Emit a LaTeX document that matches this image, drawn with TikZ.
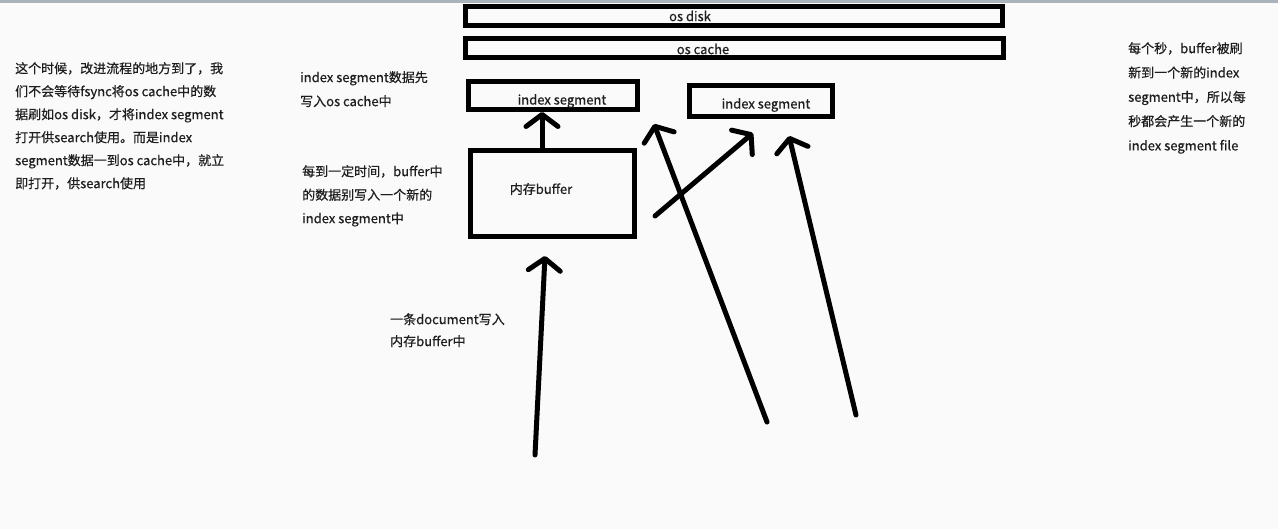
\documentclass[tikz,border=0pt]{standalone}
\usepackage{fontspec}
\setmainfont{Noto Sans CJK SC}[FakeBold=0.5]
\usetikzlibrary{arrows.meta}
\definecolor{bgc}{RGB}{250,250,250}
\definecolor{barc}{RGB}{170,178,188}
\definecolor{txt}{RGB}{30,30,30}
\begin{document}
\begin{tikzpicture}[x=1pt,y=-1pt,
  box/.style={draw=black,line width=5pt,rectangle,inner sep=0pt},
  lbl/.style={inner sep=0pt,text=txt,font=\fontsize{13}{16}\selectfont},
  note/.style={inner sep=0pt,text=txt,align=left,anchor=north west},
  hand/.style={line width=5pt,line cap=round,-{Straight Barb[length=12pt,width=32pt,round]}}]
\fill[bgc] (0,0) rectangle (1278,529);
\fill[barc] (0,0) rectangle (1278,3);
\useasboundingbox (0,0) rectangle (1278,529);
% boxes
\node[box,minimum width=537pt,minimum height=19pt] (disk) at (734,16) {};
\node[lbl] (disklbl) at (690,16) {os disk};
\node[box,minimum width=538pt,minimum height=19pt] (cache) at (734.5,48) {};
\node[lbl] (cachelbl) at (703,49) {os cache};
\node[box,minimum width=169pt,minimum height=28pt] (seg1) at (553,95.5) {};
\node[lbl] (seg1lbl) at (562,101) {index segment};
\node[box,minimum width=143pt,minimum height=31pt] (seg2) at (761,101) {};
\node[lbl] (seg2lbl) at (766,105) {index segment};
\node[box,minimum width=164pt,minimum height=86pt] (buf) at (552.5,193.5) {};
\node[lbl] (buflbl) at (541,189) {内存buffer};
% notes
\node[note,font=\fontsize{13}{23}\selectfont] (left) at (15,62) {这个时候，改进流程的地方到了，我\\们不会等待fsync将os cache中的数\\据刷如os disk，才将index segment\\打开供search使用。而是index\\segment数据一到os cache中，就立\\即打开，供search使用};
\node[note,font=\fontsize{13}{24}\selectfont] (mid1) at (300,71) {index segment数据先\\写入os cache中};
\node[note,font=\fontsize{13}{23.5}\selectfont] (mid2) at (302,165) {每到一定时间，buffer中\\的数据别写入一个新的\\index segment中};
\node[note,font=\fontsize{13}{24.3}\selectfont] (right) at (1128,42) {每个秒，buffer被刷\\新到一个新的index\\segment中，所以每\\秒都会产生一个新的\\index segment file};
\node[note,font=\fontsize{13}{22}\selectfont] (bot) at (390,313) {一条document写入\\内存buffer中};
% connector ends
\coordinate (a2s) at (535,455);
\coordinate (a2e) at (545,256);
\coordinate (a3s) at (655,216);
\coordinate (a3e) at (753,133);
\coordinate (a4s) at (767,422);
\coordinate (a4e) at (654,124);
\coordinate (a5s) at (856,415);
\coordinate (a5e) at (789,136);
% connectors
\draw[hand] ([xshift=-10.5pt]buf.north) -- ([xshift=-11pt]seg1.south);
\draw[hand] (a2s) -- (a2e);
\draw[hand] (a3s) -- (a3e);
\draw[hand] (a4s) -- (a4e);
\draw[hand] (a5s) -- (a5e);
\end{tikzpicture}
\end{document}
